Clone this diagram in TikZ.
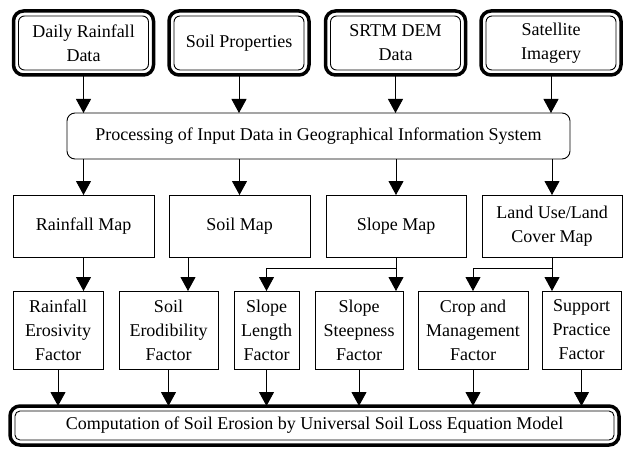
\documentclass[tikz,border=0pt]{standalone}
\usepackage{fontspec}
\setmainfont{Liberation Serif}
\usetikzlibrary{arrows.meta,fit}

\begin{document}
\begin{tikzpicture}[
		x=1pt, y=-1pt,
		font=\fontsize{18}{24}\selectfont,
		every node/.style={outer sep=0pt, align=center},
		datain/.style={draw, line width=0.9pt, rounded corners=6pt, minimum width=130pt, minimum height=54pt},
		frame/.style={draw, line width=3.5pt, rounded corners=10pt, inner sep=5pt},
		mapbox/.style={draw, line width=0.9pt, minimum width=#1, minimum height=62pt},
		factor/.style={draw, line width=0.9pt, minimum width=#1, minimum height=78pt, inner sep=1pt},
		arr/.style={line width=0.9pt, -{Triangle[width=15pt,length=14pt]}},
		link/.style={line width=0.9pt},
	]
		\useasboundingbox (0,0) rectangle (623,449);

		% input data
		\node [datain] (rain) at (83.5,43) {Daily Rainfall\\Data};
		\node [datain] (soil) at (239,43) {Soil Properties};
		\node [datain] (dem) at (395.5,43) {SRTM DEM\\Data};
		\node [datain] (sat) at (551,43) {Satellite\\Imagery};
		\foreach \n in {rain,soil,dem,sat}
			\node [frame, fit=(\n)] (\n-o) {};

		% GIS processing
		\node [draw, line width=0.9pt, rounded corners=8pt, minimum width=503pt, minimum height=46pt] (gis) at (318.5,136) {Processing of Input Data in Geographical Information System};

		% maps
		\node [mapbox=141pt] (rainmap) at (83.5,226) {Rainfall Map};
		\node [mapbox=141pt] (soilmap) at (239.5,226) {Soil Map};
		\node [mapbox=140pt] (slopemap) at (396,226) {Slope Map};
		\node [mapbox=140pt] (lulc) at (552,226) {Land Use/Land\\Cover Map};

		% USLE factors
		\node [factor=90pt] (r) at (58,330) {Rainfall\\Erosivity\\Factor};
		\node [factor=99pt] (k) at (168.5,330) {Soil\\Erodibility\\Factor};
		\node [factor=65pt] (l) at (266.5,330) {Slope\\Length\\Factor};
		\node [factor=88pt] (s) at (359,330) {Slope\\Steepness\\Factor};
		\node [factor=110pt] (c) at (473,330) {Crop and\\Management\\Factor};
		\node [factor=79pt] (p) at (581.5,330) {Support\\Practice\\Factor};

		% model
		\node [draw, line width=0.9pt, rounded corners=5pt, minimum width=599pt, minimum height=29pt] (usle) at (314.5,425.5) {Computation of Soil Erosion by Universal Soil Loss Equation Model};
		\node [frame, fit=(usle)] (usle-o) {};

		\foreach \n/\m in {rain/rainmap,soil/soilmap,dem/slopemap,sat/lulc} {
			\draw [arr] (\n-o.south) -- (\n-o.south |- gis.north);
			\draw [arr] (gis.south -| \m.north) -- (\m.north);
		}

		\draw [arr] (rainmap.south) -- (rainmap.south |- r.north);
		\coordinate (soilout) at ([xshift=19pt]soilmap.south west);
		\draw [arr] (soilout) -- (soilout |- k.north);
		\draw [arr] (slopemap.south) -- (slopemap.south |- s.north);
		\draw [arr] (slopemap.south) -- ++(0,11) -| (l.north);
		\draw [arr] (lulc.south) -- (lulc.south |- p.north);
		\draw [arr] (lulc.south) -- ++(0,11) -| (c.north);

		\foreach \n in {r,k,l,s,c,p}
			\draw [arr] (\n.south) -- (\n.south |- usle-o.north);
	\end{tikzpicture}
\end{document}
